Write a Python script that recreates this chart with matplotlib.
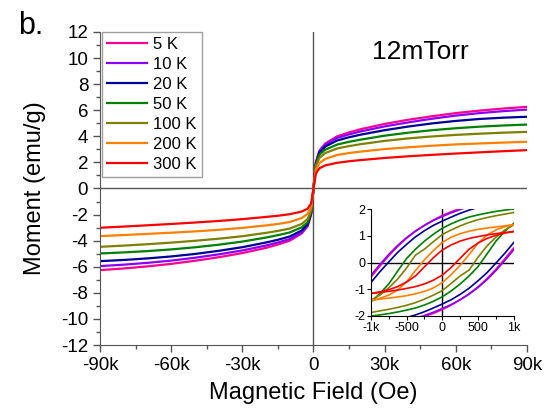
import numpy as np
import matplotlib
matplotlib.use('Agg')
import matplotlib.pyplot as plt
from matplotlib.ticker import MultipleLocator, FuncFormatter

plt.rcParams['font.family'] = ['Liberation Sans', 'DejaVu Sans']
plt.rcParams['axes.unicode_minus'] = False

# temperatures and colours
labels = ['5 K', '10 K', '20 K', '50 K', '100 K', '200 K', '300 K']
colors = ['#ff0090', '#8a00ff', '#000099', '#008000', '#808000', '#ff8000', '#ff0000']

# main M(H) curves, field in kOe
field_k = [-90, -80, -70, -60, -50, -40, -30, -20, -15, -10, -5, -2.5, -1,
           0, 1, 2.5, 5, 10, 15, 20, 30, 40, 50, 60, 70, 80, 90]
m_5K = [-6.26, -6.13, -5.97, -5.78, -5.54, -5.27, -4.95, -4.55, -4.3, -4.0, -3.45, -2.9, -2.0,
        0, 2.0, 2.9, 3.45, 4.0, 4.3, 4.55, 4.95, 5.27, 5.54, 5.78, 5.97, 6.13, 6.26]
m_10K = [-5.95, -5.84, -5.7, -5.53, -5.31, -5.05, -4.75, -4.37, -4.14, -3.88, -3.38, -2.85, -1.95,
         0, 1.95, 2.85, 3.38, 3.88, 4.15, 4.38, 4.76, 5.07, 5.35, 5.59, 5.78, 5.93, 6.05]
m_20K = [-5.57, -5.48, -5.36, -5.21, -5.02, -4.78, -4.5, -4.14, -3.93, -3.68, -3.22, -2.75, -1.9,
         0, 1.9, 2.75, 3.22, 3.68, 3.93, 4.13, 4.47, 4.75, 4.99, 5.18, 5.33, 5.43, 5.5]
m_50K = [-4.98, -4.9, -4.8, -4.67, -4.51, -4.31, -4.07, -3.76, -3.58, -3.37, -2.98, -2.6, -1.8,
         0, 1.8, 2.6, 2.98, 3.37, 3.58, 3.75, 4.05, 4.28, 4.47, 4.62, 4.74, 4.83, 4.9]
m_100K = [-4.47, -4.38, -4.27, -4.15, -4.01, -3.85, -3.66, -3.4, -3.25, -3.07, -2.72, -2.35, -1.7,
          0, 1.7, 2.35, 2.72, 3.07, 3.25, 3.4, 3.65, 3.84, 3.99, 4.11, 4.2, 4.28, 4.34]
m_200K = [-3.65, -3.57, -3.48, -3.39, -3.29, -3.17, -3.02, -2.83, -2.72, -2.57, -2.27, -1.95, -1.45,
          0, 1.45, 1.95, 2.27, 2.57, 2.72, 2.83, 3.02, 3.16, 3.28, 3.38, 3.45, 3.52, 3.58]
m_300K = [-3.01, -2.92, -2.82, -2.72, -2.61, -2.49, -2.35, -2.18, -2.09, -1.97, -1.77, -1.55, -1.15,
          0, 1.15, 1.55, 1.77, 1.97, 2.09, 2.18, 2.34, 2.47, 2.58, 2.68, 2.77, 2.86, 2.94]
main_curves = [m_5K, m_10K, m_20K, m_50K, m_100K, m_200K, m_300K]

# inset low-field loops, field in Oe
field_in = [-1000, -875, -750, -625, -500, -375, -250, -125, 0,
            125, 250, 375, 500, 625, 750, 875, 1000]
up_5K = [-0.55, -0.14, 0.25, 0.6, 0.91, 1.17, 1.39, 1.59, 1.76, 1.9, 2.02, 2.13, 2.23, 2.32, 2.4, 2.47, 2.54]
lo_5K = [-2.54, -2.47, -2.4, -2.32, -2.23, -2.13, -2.02, -1.9, -1.76, -1.59, -1.39, -1.17, -0.91, -0.6, -0.25, 0.14, 0.55]
up_10K = [-0.48, -0.08, 0.3, 0.64, 0.93, 1.18, 1.39, 1.57, 1.72, 1.86, 1.98, 2.09, 2.19, 2.28, 2.36, 2.43, 2.5]
lo_10K = [-2.5, -2.43, -2.36, -2.28, -2.19, -2.09, -1.98, -1.86, -1.72, -1.57, -1.39, -1.18, -0.93, -0.64, -0.3, 0.08, 0.48]
up_20K = [-0.75, -0.35, 0.02, 0.38, 0.68, 0.96, 1.19, 1.39, 1.55, 1.7, 1.84, 1.96, 2.06, 2.15, 2.23, 2.3, 2.36]
lo_20K = [-2.36, -2.3, -2.23, -2.15, -2.06, -1.96, -1.84, -1.7, -1.55, -1.39, -1.19, -0.96, -0.68, -0.38, -0.02, 0.35, 0.75]
up_50K = [-1.47, -1.17, -0.8, -0.32, 0.15, 0.5, 0.8, 1.06, 1.28, 1.45, 1.59, 1.7, 1.78, 1.85, 1.91, 1.96, 2.0]
lo_50K = [-2.0, -1.96, -1.91, -1.85, -1.78, -1.7, -1.59, -1.45, -1.28, -1.06, -0.8, -0.5, -0.15, 0.32, 0.8, 1.17, 1.47]
up_100K = [-1.41, -1.22, -0.95, -0.62, -0.2, 0.28, 0.5, 0.78, 1.05, 1.22, 1.37, 1.5, 1.6, 1.68, 1.75, 1.81, 1.87]
lo_100K = [-1.87, -1.81, -1.75, -1.68, -1.6, -1.5, -1.37, -1.22, -1.05, -0.78, -0.5, -0.28, 0.2, 0.62, 0.95, 1.22, 1.41]
up_200K = [-1.42, -1.34, -1.22, -1.03, -0.72, -0.3, 0.1, 0.45, 0.75, 0.95, 1.08, 1.17, 1.24, 1.29, 1.33, 1.37, 1.42]
lo_200K = [-1.42, -1.37, -1.33, -1.29, -1.24, -1.17, -1.08, -0.95, -0.75, -0.45, -0.1, 0.3, 0.72, 1.03, 1.22, 1.34, 1.42]
up_300K = [-1.16, -1.1, -1.02, -0.9, -0.73, -0.5, -0.16, 0.18, 0.47, 0.66, 0.8, 0.9, 0.97, 1.03, 1.08, 1.12, 1.16]
lo_300K = [-1.16, -1.12, -1.08, -1.03, -0.97, -0.9, -0.8, -0.66, -0.47, -0.18, 0.16, 0.5, 0.73, 0.9, 1.02, 1.1, 1.16]
loops = [(up_5K, lo_5K), (up_10K, lo_10K), (up_20K, lo_20K), (up_50K, lo_50K),
         (up_100K, lo_100K), (up_200K, lo_200K), (up_300K, lo_300K)]

fig = plt.figure(figsize=(5.47, 4.13), dpi=100)
ax = fig.add_axes([0.1828, 0.1646, 0.7806, 0.758])

H = np.array(field_k) * 1000
for m, c, lab in zip(main_curves, colors, labels):
    ax.plot(H, m, color=c, lw=1.6, label=lab)

ax.axhline(0, color='#555555', lw=1.0, zorder=0)
ax.axvline(0, color='#555555', lw=1.0, zorder=0)
ax.set_xlim(-90000, 90000)
ax.set_ylim(-12, 12)
for s in ['top', 'right']:
    ax.spines[s].set_visible(False)
for s in ['left', 'bottom']:
    ax.spines[s].set_color('#555555')
ax.xaxis.set_major_locator(MultipleLocator(30000))
ax.xaxis.set_minor_locator(MultipleLocator(15000))
ax.yaxis.set_major_locator(MultipleLocator(2))
ax.yaxis.set_minor_locator(MultipleLocator(1))
ax.xaxis.set_major_formatter(FuncFormatter(lambda v, p: '0' if v == 0 else '%dk' % round(v / 1000)))
ax.tick_params(which='major', direction='out', length=5, width=1, color='#555555', labelsize=13.5)
ax.tick_params(which='minor', direction='out', length=3, width=1, color='#555555')
ax.set_xlabel('Magnetic Field (Oe)', fontsize=17, labelpad=6)
ax.set_ylabel('Moment (emu/g)', fontsize=17, labelpad=11)

leg = ax.legend(loc='upper left', bbox_to_anchor=(0.005, 1.0), fontsize=12, frameon=True, fancybox=False,
                handlelength=2.4, handletextpad=0.35, labelspacing=0.3, borderpad=0.3,
                borderaxespad=0.0)
leg.get_frame().set_edgecolor('#888888')
leg.get_frame().set_linewidth(1.0)

fig.text(0.033, 0.918, 'b.', fontsize=22)
ax.text(0.75, 0.935, '12mTorr', transform=ax.transAxes, fontsize=19, ha='center', va='center')

# inset
axi = fig.add_axes([0.678, 0.2349, 0.2614, 0.259])
for (up, lo), c in zip(loops, colors):
    axi.plot(field_in, up, color=c, lw=1.2)
    axi.plot(field_in, lo, color=c, lw=1.2)
axi.axhline(0, color='black', lw=1.0, zorder=0)
axi.axvline(0, color='black', lw=1.0, zorder=0)
axi.set_xlim(-1000, 1000)
axi.set_ylim(-2, 2)
for s in ['top', 'right']:
    axi.spines[s].set_visible(False)
axi.set_xticks([-1000, -500, 0, 500, 1000])
axi.set_xticklabels(['-1k', '-500', '0', '500', '1k'])
axi.set_yticks([-2, -1, 0, 1, 2])
axi.xaxis.set_minor_locator(MultipleLocator(250))
axi.tick_params(which='major', direction='out', length=3, width=0.8, labelsize=9, pad=1)
axi.tick_params(which='minor', direction='out', length=2, width=0.8)

fig.savefig('out.png', dpi=100)
